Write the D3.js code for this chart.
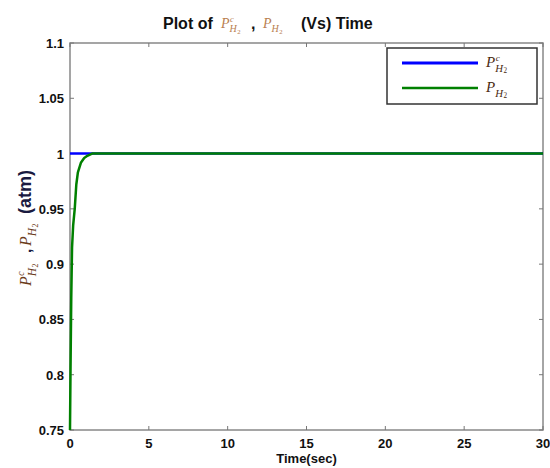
<!DOCTYPE html>
<html>
<head>
<meta charset="utf-8">
<script src="https://cdn.jsdelivr.net/npm/d3@7"></script>
<style>
body { margin: 0; background: #fff; }
svg { display: block; }
.tick-label { font-family: Arial, "Liberation Sans", sans-serif; font-weight: bold; font-size: 13px; fill: #111; }
</style>
</head>
<body>
<svg class="canvas" width="550" height="468"></svg>
<script>
// data
var time_s = [0, 0.03, 0.08, 0.13, 0.2, 0.3, 0.4, 0.5, 0.7, 0.9, 1.1, 1.4, 30];
var p_h2 = [0.75, 0.80, 0.87, 0.915, 0.935, 0.95, 0.972, 0.983, 0.992, 0.996, 0.998, 1.0, 1.0];
var ref_time = [0, 30];
var p_h2_ref = [1, 1];
var x_ticks = [0, 5, 10, 15, 20, 25, 30];
var y_ticks = [0.75, 0.8, 0.85, 0.9, 0.95, 1, 1.05, 1.1];
var y_tick_labels = ['0.75', '0.8', '0.85', '0.9', '0.95', '1', '1.05', '1.1'];

var svg = d3.select('.canvas');
var m_left = 70, m_right = 543, m_top = 43, m_bottom = 430;

var x = d3.scaleLinear().domain([0, 30]).range([m_left, m_right]);
var y = d3.scaleLinear().domain([0.75, 1.1]).range([m_bottom, m_top]);

// math label: P with optional superscript c and subscript H2
function mathP(parent, px, py, sup, color, size) {
	var g = parent.append('g').attr('fill', color)
		.style('font-family', '"Liberation Serif", "Times New Roman", serif')
		.style('font-style', 'italic');
	var p = g.append('text').attr('x', px).attr('y', py).style('font-size', size + 'px').text('P');
	var w = p.node().getComputedTextLength();
	if (sup) {
		g.append('text').attr('x', px + w + 0.5).attr('y', py - size * 0.42)
			.style('font-size', (size * 0.6) + 'px').text('c');
	}
	var h = g.append('text').attr('x', px + w).attr('y', py + size * 0.3)
		.style('font-size', (size * 0.72) + 'px').text('H');
	var hw = h.node().getComputedTextLength();
	var two = g.append('text').attr('x', px + w + hw + 0.5).attr('y', py + size * 0.42)
		.style('font-size', (size * 0.48) + 'px').style('font-style', 'normal').text('2');
	return w + hw + two.node().getComputedTextLength() + 1;
}

// axes box
svg.append('rect')
	.attr('x', m_left).attr('y', m_top)
	.attr('width', m_right - m_left).attr('height', m_bottom - m_top)
	.attr('fill', 'none').attr('stroke', '#888').attr('stroke-width', 1.5);

// inward ticks on all sides
var tk = 4;
var ticks = svg.append('g').attr('stroke', '#777').attr('stroke-width', 1);
x_ticks.forEach(function(t) {
	ticks.append('line').attr('x1', x(t)).attr('x2', x(t)).attr('y1', m_bottom).attr('y2', m_bottom - tk);
	ticks.append('line').attr('x1', x(t)).attr('x2', x(t)).attr('y1', m_top).attr('y2', m_top + tk);
});
y_ticks.forEach(function(t) {
	ticks.append('line').attr('x1', m_left).attr('x2', m_left + tk).attr('y1', y(t)).attr('y2', y(t));
	ticks.append('line').attr('x1', m_right).attr('x2', m_right - tk).attr('y1', y(t)).attr('y2', y(t));
});

// tick labels
svg.selectAll('.xl').data(x_ticks).enter().append('text')
	.attr('class', 'tick-label')
	.attr('x', function(d) { return x(d); })
	.attr('y', m_bottom + 18)
	.attr('text-anchor', 'middle')
	.text(function(d) { return d; });

svg.selectAll('.yl').data(y_ticks).enter().append('text')
	.attr('class', 'tick-label')
	.attr('x', m_left - 6)
	.attr('y', function(d) { return y(d) + 5; })
	.attr('text-anchor', 'end')
	.text(function(d, i) { return y_tick_labels[i]; });

// lines
var line = d3.line()
	.x(function(d) { return x(d[0]); })
	.y(function(d) { return y(d[1]); });

svg.append('path')
	.datum(d3.zip(ref_time, p_h2_ref))
	.attr('d', line)
	.attr('fill', 'none').attr('stroke', '#0000ff').attr('stroke-width', 2.5);

svg.append('path')
	.datum(d3.zip(time_s, p_h2))
	.attr('d', line)
	.attr('fill', 'none').attr('stroke', '#008000').attr('stroke-width', 2.5)
	.attr('stroke-linejoin', 'round');

// legend
var lg = svg.append('g');
lg.append('rect').attr('x', 387).attr('y', 48).attr('width', 150).attr('height', 56)
	.attr('fill', '#fff').attr('stroke', '#333').attr('stroke-width', 1.5);
lg.append('line').attr('x1', 402).attr('x2', 478).attr('y1', 63).attr('y2', 63)
	.attr('stroke', '#0000ff').attr('stroke-width', 3);
lg.append('line').attr('x1', 402).attr('x2', 478).attr('y1', 88).attr('y2', 88)
	.attr('stroke', '#008000').attr('stroke-width', 2.5);
mathP(lg, 486, 67, true, '#4a2a10', 15);
mathP(lg, 486, 92, false, '#4a2a10', 15);

// title
var title = svg.append('g');
var tfont = 'Arial, "Liberation Sans", sans-serif';
var ty = 29;
function titleText(tx, s) {
	title.append('text').attr('x', tx).attr('y', ty)
		.style('font-family', tfont).style('font-weight', 'bold').style('font-size', '16px')
		.attr('fill', '#111').text(s);
}
titleText(163, 'Plot of');
mathP(title, 221, ty - 1, true, '#b98050', 14);
titleText(251, ',');
mathP(title, 263, ty - 1, false, '#b98050', 14);
titleText(301, '(Vs) Time');

// x label
svg.append('text')
	.attr('x', (m_left + m_right) / 2).attr('y', m_bottom + 33)
	.attr('text-anchor', 'middle')
	.style('font-family', tfont).style('font-weight', 'bold').style('font-size', '13px')
	.attr('fill', '#111').text('Time(sec)');

// y label, rotated
var yl = svg.append('g').attr('transform', 'translate(31,286) rotate(-90)');
mathP(yl, 0, 0, true, '#6a3a1a', 16);
yl.append('text').attr('x', 33).attr('y', 0)
	.style('font-family', tfont).style('font-weight', 'bold').style('font-size', '15px')
	.attr('fill', '#1a1a40').text(',');
mathP(yl, 40, 0, false, '#6a3a1a', 16);
yl.append('text').attr('x', 72).attr('y', 0)
	.style('font-family', tfont).style('font-weight', 'bold').style('font-size', '18px')
	.attr('fill', '#1a1a40').text('(atm)');
</script>
</body>
</html>
